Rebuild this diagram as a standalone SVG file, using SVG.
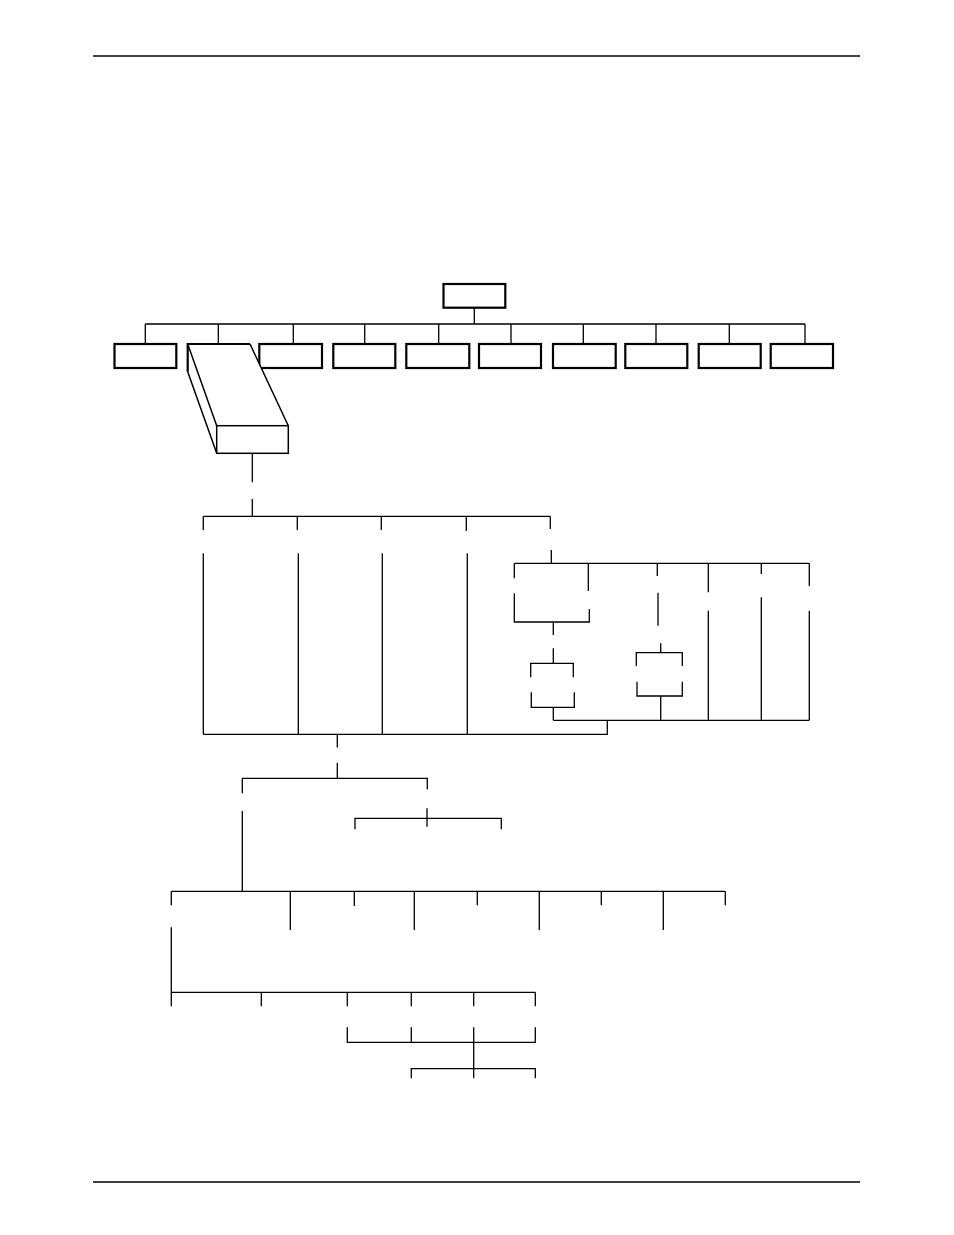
<svg xmlns="http://www.w3.org/2000/svg" width="954" height="1235" viewBox="0 0 954 1235">
<style>
.bx{fill:#fff;stroke:#000;stroke-width:2.2}
.c{fill:none;stroke:#000;stroke-width:1.3;stroke-linecap:butt}
.r{stroke:#000;stroke-width:1.3}
</style>
<rect width="954" height="1235" fill="#fff"/>
<g id="rules">
<line class="r" x1="93" y1="56" x2="860" y2="56"/>
<line class="r" x1="93" y1="1182" x2="860" y2="1182"/>
</g>
<g id="connectors">
<path class="c" d="M474.3 308V324M145.3 324H805M145.3 324V343M218.3 324V343M293.3 324V343M364.7 324V343M438.7 324V343M511 324V343M583.3 324V343M656 324V343M729.3 324V343M805 324V343"/>
<path class="c" d="M252.3 454V482.3M252.3 499V516.3M203.3 516.3H550.3M203.3 516.3V530M297.3 516.3V530M381.3 516.3V530M466.3 516.3V531M550.3 516.3V529"/>
<path class="c" d="M203.3 553.3V734.3M298.3 553.3V734.3M382.3 553.3V734.3M467.3 553.3V734.3M203.3 734.3H607.3V720.3M553.3 720.3H809.3"/>
<path class="c" d="M551.3 550V563.3M514.3 563.3H809.3M514.3 563.3V578.3M588.3 563.3V591M657.3 563.3V576M708.3 563.3V592.3M761.3 563.3V574M809.3 563.3V586"/>
<path class="c" d="M514.3 593.3V622H589.3V609M553.3 622V635M553.3 648.3V663.3M530.7 677.3V663.3H573.3V677.3M531.3 692.3V707.3H574.3V692.3M553.3 707.3V720.3"/>
<path class="c" d="M658 592.7V625.7M660.7 643.3V652.7M636.3 666V652.7H682.3V666M637 681.7V696H682.3V681.7M660.7 696V720.3M708.3 610.7V720.3M761.3 597.3V720.3M809.3 610.7V720.3"/>
<path class="c" d="M337.3 734.3V747.5M337.3 762.7V778.3M242.3 793.3V778.3H427.3V789.3M242.3 811V891.3M427 808.3V826.7M355 829.3V818.3H501.3V829.3"/>
<path class="c" d="M171.3 891.3H725.3M171.3 891.3V905.3M290.3 891.3V930M354.3 891.3V906M414.3 891.3V930M477.3 891.3V905.3M539.3 891.3V930M601.3 891.3V905.3M663.3 891.3V930M725.3 891.3V905.3"/>
<path class="c" d="M171.3 927.3V992.3H535.3M171.3 992.3V1006.3M261.3 992.3V1006.3M347.3 992.3V1006.3M411.3 992.3V1006.3M473.7 992.3V1006.3M535.3 992.3V1006.3"/>
<path class="c" d="M347.3 1027.3V1042.3H535.3V1027.3M411.3 1027.3V1042.3M473.7 1027.3V1078.3M411.3 1078.3V1068.7H535.3V1078.3"/>
</g>
<g id="node-root"><rect class="bx" x="443.5" y="284" width="61.8" height="23.7"/></g>
<g id="node-1"><rect class="bx" x="114.5" y="344" width="61.8" height="24"/></g>
<g id="node-3"><rect class="bx" x="259.3" y="344" width="62.7" height="24"/></g>
<g id="node-4"><rect class="bx" x="333.3" y="344" width="62" height="24"/></g>
<g id="node-5"><rect class="bx" x="406.3" y="344" width="63" height="24"/></g>
<g id="node-6"><rect class="bx" x="479" y="344" width="62" height="24"/></g>
<g id="node-7"><rect class="bx" x="553" y="344" width="62.7" height="24"/></g>
<g id="node-8"><rect class="bx" x="625.3" y="344" width="62" height="24"/></g>
<g id="node-9"><rect class="bx" x="698.7" y="344" width="62" height="24"/></g>
<g id="node-10"><rect class="bx" x="770.7" y="344" width="62.3" height="24"/></g>
<g id="node-2">
<path d="M187.7 344H250L288.3 425.7V453.3H216.7L187.7 371.7Z" fill="#fff"/>
<path d="M187.7 371.7V344H250" fill="none" stroke="#000" stroke-width="2.2"/>
<path d="M187.7 344L216.7 425.7M187.7 371.7L216.7 453.3M250 344L288.3 425.7" fill="none" stroke="#000" stroke-width="1.5"/>
<rect x="216.7" y="425.7" width="71.6" height="27.6" fill="#fff" stroke="#000" stroke-width="1.5"/>
</g>
</svg>
